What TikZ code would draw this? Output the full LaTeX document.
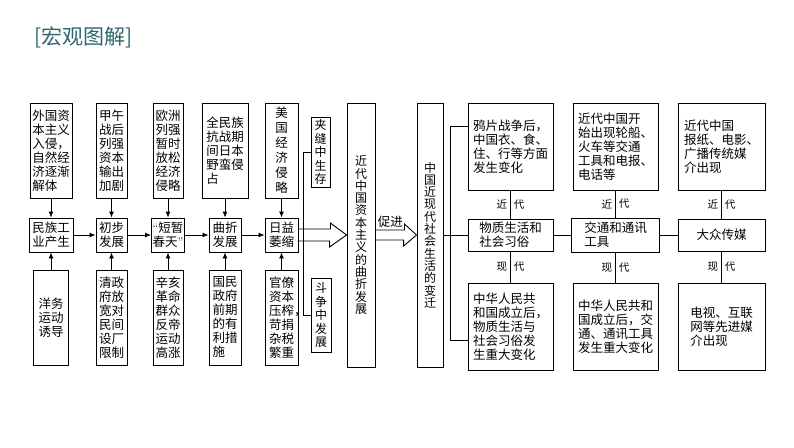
\documentclass[tikz,border=0pt]{standalone}
\usepackage{fontspec}
\newfontfamily\cjk{Noto Sans CJK SC}
\usetikzlibrary{calc,arrows.meta}
\definecolor{titleteal}{RGB}{46,102,112}

\begin{document}
\begin{tikzpicture}[x=1pt,y=-1pt,
    box/.style={draw, line width=0.9pt, inner sep=0pt, align=center,
      font=\cjk\fontsize{12.5}{14}\selectfont},
    lbox/.style={box, align=left},
    col/.style={box, font=\cjk\fontsize{12}{12.3}\selectfont},
    stack/.style={box, font=\cjk\fontsize{12.5}{15}\selectfont},
    side/.style={box, font=\cjk\fontsize{12}{13.5}\selectfont},
    era/.style={inner sep=3pt, font=\cjk\fontsize{10.5}{12}\selectfont},
    hollow/.style={line width=0.9pt, line join=miter},
    >={Latex[length=6pt,width=5pt]}, line width=0.9pt]
  \path[use as bounding box] (0,0) rectangle (794,447);

  \node[anchor=west, inner sep=0pt, text=titleteal,
    font=\cjk\fontsize{21}{24}\selectfont] (title) at (34,37) {[宏观图解]};

  % top row
  \node[lbox, minimum width=42, minimum height=95] (ta) at (51,150.5)
    {外国资\\本主义\\入侵，\\自然经\\济逐渐\\解体};
  \node[box, minimum width=31, minimum height=95] (tb) at (111.5,150.5)
    {甲午\\战后\\列强\\资本\\输出\\加剧};
  \node[box, minimum width=30, minimum height=95] (tc) at (168,150.5)
    {欧洲\\列强\\暂时\\放松\\经济\\侵略};
  \node[lbox, minimum width=46, minimum height=95] (td) at (225,150.5)
    {全民族\\抗战期\\间日本\\野蛮侵\\占};
  \node[stack, minimum width=33, minimum height=95] (te) at (281.5,150.5)
    {美\\国\\经\\济\\侵\\略};
  \node[side, minimum width=19, minimum height=70] (jf) at (320.5,152)
    {夹\\缝\\中\\生\\存};

  % middle row
  \node[box, minimum width=44, minimum height=34] (ma) at (51,235) {民族工\\业产生};
  \node[box, minimum width=31, minimum height=34] (mb) at (111.5,235) {初步\\发展};
  \node[box, minimum width=33, minimum height=34] (mc) at (168,235)
    {{\rmfamily“}短暂\\春天{\rmfamily”}};
  \node[box, minimum width=32, minimum height=34] (md) at (225,235) {曲折\\发展};
  \node[box, minimum width=33, minimum height=34] (me) at (281.5,235) {日益\\萎缩};

  % bottom row
  \node[box, minimum width=35, minimum height=95] (ba) at (51,317.5)
    {洋务\\运动\\诱导};
  \node[box, minimum width=31, minimum height=95] (bb) at (111.5,317.5)
    {清政\\府放\\宽对\\民间\\设厂\\限制};
  \node[box, minimum width=30, minimum height=95] (bc) at (168,317.5)
    {辛亥\\革命\\群众\\反帝\\运动\\高涨};
  \node[lbox, minimum width=32, minimum height=95] (bd) at (225,317.5)
    {国民\\政府\\前期\\的有\\利措\\施};
  \node[box, minimum width=33, minimum height=95] (be) at (281.5,317.5)
    {官僚\\资本\\压榨\rlap{，}\\苛捐\\杂税\\繁重};
  \node[side, minimum width=20, minimum height=74] (dz) at (321,315)
    {斗\\争\\中\\发\\展};

  \foreach \c in {a,b,c,d,e} {
    \draw[->] (t\c) -- (m\c);
    \draw[->] (b\c) -- (m\c);
  }
  \foreach \p/\q in {ma/mb,mb/mc,mc/md,md/me}
    \draw[->] (\p) -- (\q);

  \draw (jf.west) -- ++(-7,0) |- (dz.west);

  % tall boxes
  \node[col, minimum width=28, minimum height=264] (big1) at (361,235)
    {近\\代\\中\\国\\资\\本\\主\\义\\的\\曲\\折\\发\\展};
  \node[col, minimum width=26, minimum height=264] (big2) at (430,235)
    {中\\国\\近\\现\\代\\社\\会\\生\\活\\的\\变\\迁};

  \draw[hollow] (me.east) ++(0,-6) -- ++(32,0) -- ++(0,-6) -- (big1.west)
    -- ++(-17,12) -- ++(0,-6) -- ++(-32,0);
  \draw[hollow] (big1.east) ++(0,-5) -- ++(29,0) -- ++(0,-6) -- (big2.west)
    -- ++(-13,11) -- ++(0,-6) -- ++(-29,0);
  \node[anchor=south west, inner sep=1pt, font=\cjk\fontsize{12.5}{14}\selectfont]
    (cj) at ($(big1.east)+(1,-6)$) {促进};

  % right part
  \node[lbox, minimum width=85, minimum height=87] (rtop) at (510.5,146.5)
    {鸦片战争后，\\中国衣、食、\\住、行等方面\\发生变化};
  \node[lbox, minimum width=85, minimum height=32] (rmid) at (510.5,235)
    {物质生活和\\社会习俗};
  \node[lbox, minimum width=85, minimum height=87] (rbot) at (510.5,326.5)
    {中华人民共\\和国成立后，\\物质生活与\\社会习俗发\\生重大变化};

  \node[lbox, minimum width=85, minimum height=87] (stop) at (615.5,146.5)
    {近代中国开\\始出现轮船、\\火车等交通\\工具和电报、\\电话等};
  \node[lbox, minimum width=88, minimum height=34] (smid) at (615.5,235)
    {交通和通讯\\工具};
  \node[lbox, minimum width=85, minimum height=87] (sbot) at (615.5,326.5)
    {中华人民共和\\国成立后，交\\通、通讯工具\\发生重大变化};

  \node[lbox, minimum width=87, minimum height=87] (utop) at (721.5,146.5)
    {近代中国\\报纸、电影、\\广播传统媒\\介出现};
  \node[box, minimum width=87, minimum height=32] (umid) at (721.5,235)
    {大众传媒};
  \node[lbox, minimum width=87, minimum height=87] (ubot) at (721.5,326.5)
    {电视、互联\\网等先进媒\\介出现};

  \foreach \c in {r,s,u} {
    \draw (\c top) -- (\c mid)
      node[era, midway, anchor=east] (\c jin) {近}
      node[era, midway, anchor=west] (\c dai1) {代};
    \draw (\c mid) -- (\c bot)
      node[era, midway, anchor=east] (\c xian) {现}
      node[era, midway, anchor=west] (\c dai2) {代};
  }
  \draw (rmid) -- (smid);
  \draw (smid) -- (umid);

  \coordinate (brk) at ($(big2.east)+(7,0)$);
  \draw (big2.east) -- (rmid.west);
  \draw ($(rtop.north west)+(0,24)$) -| (brk) |- ($(rbot.south west)+(0,-30)$);
\end{tikzpicture}
\end{document}
